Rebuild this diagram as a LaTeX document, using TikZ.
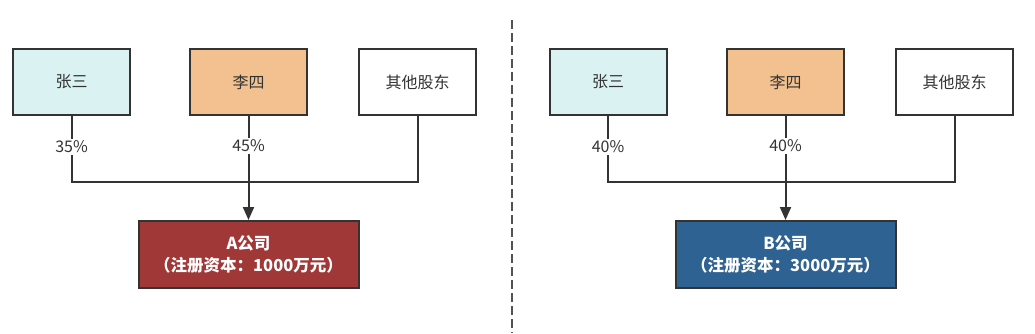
\documentclass[tikz,border=0pt]{standalone}
\usepackage{fontspec}
\setmainfont{Noto Sans CJK SC}
\usetikzlibrary{arrows.meta}
\definecolor{zscyan}{HTML}{DAF3F2}
\definecolor{lsorange}{HTML}{F3C18F}
\definecolor{cored}{HTML}{A13838}
\definecolor{coblue}{HTML}{2E6292}
\definecolor{linegray}{HTML}{333333}

\begin{document}
\begin{tikzpicture}[x=1pt, y=-1pt, >={Triangle[length=13pt,width=11pt]},
    holder/.style={draw=linegray, line width=2pt, minimum width=117pt, minimum height=66pt, inner sep=0pt, text=linegray, font=\fontsize{16}{18}\selectfont},
    company/.style={draw=linegray, line width=2pt, minimum width=220pt, minimum height=67pt, inner sep=0pt, align=center, text=white, font=\fontsize{16.5}{22}\selectfont\bfseries},
    share/.style={fill=white, inner sep=1.5pt, text=linegray, font=\fontsize{16}{18}\selectfont},
    link/.style={draw=linegray, line width=2pt}]
    \useasboundingbox (0,0) rectangle (1035,333);

    % left: A company
    \node[holder, fill=zscyan] (zsA) at (71.5,82) {张三};
    \node[holder, fill=lsorange] (lsA) at (248.5,82) {李四};
    \node[holder, fill=white] (qtA) at (417.5,82) {其他股东};
    \node[company, fill=cored] (coA) at (248.5,254.5) {A公司\\（注册资本：1000万元）};
    \coordinate (jA) at (248.5,182);
    \draw[link] (zsA.south) |- (jA) -| (qtA.south);
    \draw[link, ->] (lsA.south) -- (coA.north);
    \node[share] (pzsA) at (71.5,147) {35\%};
    \node[share] (plsA) at (248.5,146) {45\%};

    % divider
    \draw[draw=linegray!85, line width=2pt, dash pattern=on 9pt off 4pt] (511.5,20) -- (511.5,333);

    % right: B company
    \node[holder, fill=zscyan] (zsB) at (608,82) {张三};
    \node[holder, fill=lsorange] (lsB) at (785.5,82) {李四};
    \node[holder, fill=white] (qtB) at (954.5,82) {其他股东};
    \node[company, fill=coblue] (coB) at (785.5,254.5) {B公司\\（注册资本：3000万元）};
    \coordinate (jB) at (785.5,182);
    \draw[link] (zsB.south) |- (jB) -| (qtB.south);
    \draw[link, ->] (lsB.south) -- (coB.north);
    \node[share] (pzsB) at (608,147) {40\%};
    \node[share] (plsB) at (785.5,146) {40\%};
\end{tikzpicture}
\end{document}
